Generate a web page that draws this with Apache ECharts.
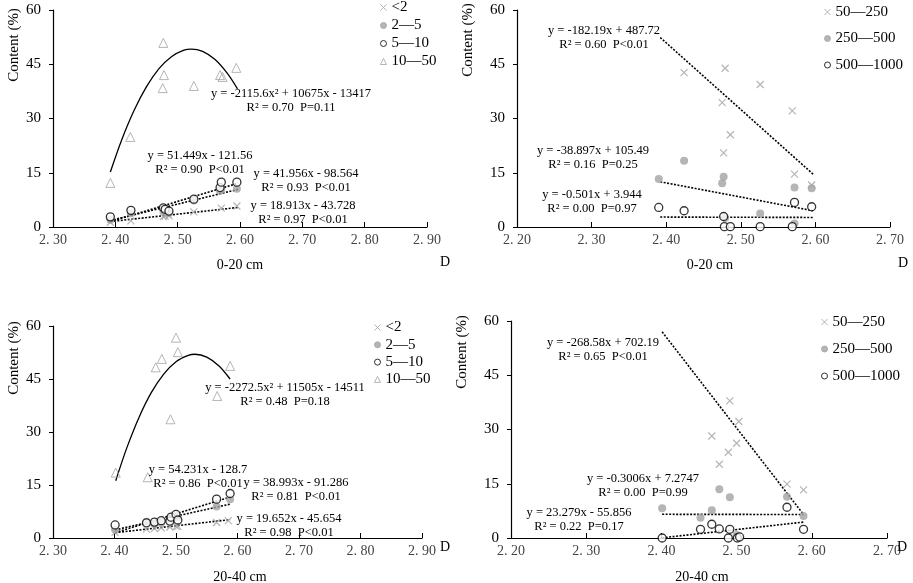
<!DOCTYPE html>
<html>
<head>
<meta charset="utf-8">
<script src="https://cdn.jsdelivr.net/npm/echarts@6/dist/echarts.min.js"></script>
<style>html,body{margin:0;padding:0;background:#fff;}#c{width:913px;height:583px;}</style>
</head>
<body>
<div id="c"></div>
<script>
// ---------- DATA ----------
// Panel A: 0-20 cm, fine classes
const a_lt2   = [[2.392,1.3],[2.425,1.7],[2.477,2.9],[2.480,3.0],[2.486,3.1],[2.526,4.2],[2.570,5.2],[2.595,5.8]];
const a_2_5   = [[2.392,2.0],[2.425,3.8],[2.477,4.6],[2.480,4.2],[2.486,3.8],[2.526,7.3],[2.568,10.0],[2.570,10.4],[2.595,10.6]];
const a_5_10  = [[2.392,2.8],[2.425,4.6],[2.477,5.3],[2.480,4.9],[2.486,4.4],[2.526,7.7],[2.568,10.9],[2.570,12.4],[2.595,12.4]];
const a_10_50 = [[2.392,12.2],[2.424,24.9],[2.477,50.9],[2.478,42.0],[2.476,38.4],[2.526,39.0],[2.568,42.0],[2.572,41.5],[2.594,44.0]];
const a_fit_lt2  = [[2.392,1.5],[2.597,5.4]];
const a_fit_2_5  = [[2.392,1.8],[2.597,10.4]];
const a_fit_5_10 = [[2.392,1.5],[2.597,12.1]];
const a_fit_10_50 = [[2.392,15.2],[2.41,24.0],[2.43,32.2],[2.45,38.8],[2.47,43.8],[2.49,47.1],[2.51,48.9],[2.522,49.2],[2.54,48.55],[2.56,46.3],[2.58,42.4],[2.596,38.2]];

// Panel B: 0-20 cm, coarse classes
const b_50_250   = [[2.424,42.7],[2.479,43.9],[2.526,39.4],[2.475,34.4],[2.569,32.1],[2.486,25.5],[2.477,20.5],[2.572,14.6],[2.595,11.6]];
const b_250_500  = [[2.390,13.3],[2.424,18.3],[2.477,13.9],[2.475,12.1],[2.479,2.5],[2.526,3.7],[2.572,1.0],[2.572,10.9],[2.595,10.7]];
const b_500_1000 = [[2.390,5.4],[2.424,4.5],[2.477,2.9],[2.478,0.1],[2.486,0.1],[2.526,0.1],[2.569,0.1],[2.572,6.8],[2.595,5.6]];
const b_fit_50_250   = [[2.392,52.4],[2.597,14.6]];
const b_fit_250_500  = [[2.392,12.5],[2.597,4.5]];
const b_fit_500_1000 = [[2.392,2.75],[2.597,2.64]];

// Panel C: 20-40 cm, fine classes
const c_lt2   = [[2.401,1.6],[2.452,2.5],[2.465,2.7],[2.476,2.9],[2.490,3.1],[2.500,3.3],[2.503,3.3],[2.566,4.4],[2.585,4.9]];
const c_2_5   = [[2.401,2.3],[2.452,4.6],[2.465,4.0],[2.476,4.5],[2.490,5.2],[2.500,6.2],[2.503,5.8],[2.566,8.9],[2.588,11.0]];
const c_5_10  = [[2.401,3.7],[2.452,4.3],[2.465,4.5],[2.476,4.9],[2.490,4.8],[2.492,5.9],[2.500,6.7],[2.503,5.1],[2.566,11.0],[2.588,12.6]];
const c_10_50 = [[2.402,18.5],[2.454,17.2],[2.467,48.3],[2.477,50.7],[2.500,56.7],[2.503,52.6],[2.491,33.6],[2.567,40.2],[2.588,48.7]];
const c_fit_lt2  = [[2.401,1.5],[2.588,5.2]];
const c_fit_2_5  = [[2.401,2.3],[2.588,9.6]];
const c_fit_5_10 = [[2.401,1.5],[2.588,11.6]];
const c_fit_10_50 = [[2.402,16.2],[2.42,25.5],[2.44,34.2],[2.46,41.2],[2.48,46.4],[2.50,49.9],[2.52,51.7],[2.531,52.0],[2.55,51.2],[2.57,48.7],[2.588,45.0]];

// Panel D: 20-40 cm, coarse classes
const d_50_250   = [[2.491,37.9],[2.503,32.2],[2.467,28.2],[2.500,26.2],[2.489,23.7],[2.477,20.4],[2.567,14.9],[2.589,13.3]];
const d_250_500  = [[2.401,8.2],[2.452,5.6],[2.467,7.7],[2.477,13.5],[2.491,11.3],[2.500,0.8],[2.567,11.4],[2.589,6.1]];
const d_500_1000 = [[2.401,0.0],[2.452,2.4],[2.467,3.8],[2.477,2.5],[2.491,2.4],[2.489,0.0],[2.501,0.0],[2.504,0.3],[2.567,8.5],[2.589,2.4]];
const d_fit_50_250   = [[2.401,57.0],[2.589,6.5]];
const d_fit_250_500  = [[2.401,6.55],[2.589,6.5]];
const d_fit_500_1000 = [[2.401,0.05],[2.589,4.4]];

const fineNames = ['<2','2—5','5—10','10—50'];
const coarseNames = ['50—250','250—500','500—1000'];
const yTicks = [0,15,30,45,60];

// ---------- STYLE ----------
const FONT = 'Liberation Serif';
const GRAY = '#a3a3a3';
const crossPath = 'path://M0,0L10,10M10,0L0,10';
const styles = {
  cross:  {symbol: crossPath, symbolSize: 7, itemStyle: {color: 'rgba(0,0,0,0)', borderColor: GRAY, borderWidth: 1.2}},
  dot:    {symbol: 'circle', symbolSize: 8, itemStyle: {color: GRAY, borderColor: GRAY, borderWidth: 0}},
  ring:   {symbol: 'circle', symbolSize: 8, itemStyle: {color: '#fff', borderColor: '#000', borderWidth: 1.3}},
  tri:    {symbol: 'triangle', symbolSize: 9, itemStyle: {color: 'rgba(255,255,255,0)', borderColor: GRAY, borderWidth: 1}}
};

const grids = [
  {left: 53, top: 10, width: 374, height: 217},
  {left: 517, top: 10, width: 373, height: 217},
  {left: 53, top: 326, width: 369, height: 212},
  {left: 511, top: 321, width: 376, height: 217}
];
const xRanges = [[2.3,2.9],[2.2,2.7],[2.3,2.9],[2.2,2.7]];

const xAxes = grids.map((g,i)=>({
  type: 'value', gridIndex: i, min: xRanges[i][0], max: xRanges[i][1], interval: 0.1,
  axisLine: {onZero: false, lineStyle: {color: '#000', width: 1.2}},
  axisTick: {show: true, inside: true, length: 5, lineStyle: {color: '#000'}},
  splitLine: {show: false},
  axisLabel: {margin: 6, color: '#444', fontFamily: FONT, fontSize: 14,
    formatter: v => { const s = v.toFixed(2); return s.replace('.', '. '); }}
}));
const yAxes = grids.map((g,i)=>({
  type: 'value', gridIndex: i, min: 0, max: 60, interval: 15,
  axisLine: {show: true, lineStyle: {color: '#000', width: 1.2}},
  axisTick: {show: true, inside: false, length: 4, lineStyle: {color: '#000'}},
  splitLine: {show: false},
  axisLabel: {margin: 12, color: '#000', fontFamily: FONT, fontSize: 15}
}));

function scatter(name, data, st, i) {
  return Object.assign({type: 'scatter', name, data, xAxisIndex: i, yAxisIndex: i, z: 3}, JSON.parse(JSON.stringify(st)));
}
function fit(data, i, dotted) {
  return {type: 'line', data, xAxisIndex: i, yAxisIndex: i, symbol: 'none', silent: true, z: 2,
    smooth: dotted ? false : 0.3,
    lineStyle: {color: '#000', width: dotted ? 1.6 : 1.3, type: dotted ? [2,1.5] : 'solid'}};
}

const series = [
  scatter('<2', a_lt2, styles.cross, 0), scatter('2—5', a_2_5, styles.dot, 0),
  scatter('5—10', a_5_10, styles.ring, 0), scatter('10—50', a_10_50, styles.tri, 0),
  fit(a_fit_lt2, 0, true), fit(a_fit_2_5, 0, true), fit(a_fit_5_10, 0, true), fit(a_fit_10_50, 0, false),

  scatter('50—250', b_50_250, styles.cross, 1), scatter('250—500', b_250_500, styles.dot, 1),
  scatter('500—1000', b_500_1000, styles.ring, 1),
  fit(b_fit_50_250, 1, true), fit(b_fit_250_500, 1, true), fit(b_fit_500_1000, 1, true),

  scatter('<2', c_lt2, styles.cross, 2), scatter('2—5', c_2_5, styles.dot, 2),
  scatter('5—10', c_5_10, styles.ring, 2), scatter('10—50', c_10_50, styles.tri, 2),
  fit(c_fit_lt2, 2, true), fit(c_fit_2_5, 2, true), fit(c_fit_5_10, 2, true), fit(c_fit_10_50, 2, false),

  scatter('50—250', d_50_250, styles.cross, 3), scatter('250—500', d_250_500, styles.dot, 3),
  scatter('500—1000', d_500_1000, styles.ring, 3),
  fit(d_fit_50_250, 3, true), fit(d_fit_250_500, 3, true), fit(d_fit_500_1000, 3, true)
];

function legend(names, left, top, gap) {
  return {data: names, orient: 'vertical', left, top, padding: 0, itemWidth: 6, itemHeight: 6, itemGap: gap,
    selectedMode: false,
    itemStyle: {borderWidth: 1},
    textStyle: {fontFamily: FONT, fontSize: 15, color: '#000', lineHeight: 15}};
}

const eqs = [
  // [text, centerX, centerY]
  ['y = -2115.6x² + 10675x - 13417\nR² = 0.70  P=0.11', 291, 101],
  ['y = 51.449x - 121.56\nR² = 0.90  P<0.01', 200, 163],
  ['y = 41.956x - 98.564\nR² = 0.93  P<0.01', 306, 181],
  ['y = 18.913x - 43.728\nR² = 0.97  P<0.01', 303, 213],
  ['y = -182.19x + 487.72\nR² = 0.60  P<0.01', 604, 38],
  ['y = -38.897x + 105.49\nR² = 0.16  P=0.25', 593, 158],
  ['y = -0.501x + 3.944\nR² = 0.00  P=0.97', 592, 202],
  ['y = -2272.5x² + 11505x - 14511\nR² = 0.48  P=0.18', 285, 395],
  ['y = 54.231x - 128.7\nR² = 0.86  P<0.01', 198, 477],
  ['y = 38.993x - 91.286\nR² = 0.81  P<0.01', 296, 490],
  ['y = 19.652x - 45.654\nR² = 0.98  P<0.01', 289, 526],
  ['y = -268.58x + 702.19\nR² = 0.65  P<0.01', 603, 350],
  ['y = -0.3006x + 7.2747\nR² = 0.00  P=0.99', 643, 486],
  ['y = 23.279x - 55.856\nR² = 0.22  P=0.17', 579, 520]
];
const titles = [
  ['0-20 cm', 240, 265], ['0-20 cm', 710, 265], ['20-40 cm', 240, 577], ['20-40 cm', 702, 577],
  ['D', 445, 262], ['D', 903, 263], ['D', 445, 547], ['D', 902, 547]
];
const yTitles = [[14, 45], [468, 40], [14, 358], [462, 352]];

const graphic = [];
eqs.forEach(e => graphic.push({type: 'text', x: e[1], y: e[2], z: 10,
  style: {text: e[0], fontFamily: FONT, fontSize: 12.5, lineHeight: 14, fill: '#000', align: 'center', verticalAlign: 'middle'}}));
titles.forEach(t => graphic.push({type: 'text', x: t[1], y: t[2], z: 10,
  style: {text: t[0], fontFamily: FONT, fontSize: 14, fill: '#000', align: 'center', verticalAlign: 'middle'}}));
yTitles.forEach(t => graphic.push({type: 'text', x: t[0], y: t[1], rotation: Math.PI/2, z: 10,
  style: {text: 'Content (%)', fontFamily: FONT, fontSize: 15, fill: '#000', align: 'center', verticalAlign: 'middle'}}));

const chart = echarts.init(document.getElementById('c'), null, {renderer: 'canvas'});
chart.setOption({
  backgroundColor: '#fff',
  animation: false,
  grid: grids,
  xAxis: xAxes,
  yAxis: yAxes,
  legend: [
    legend(fineNames, 380, 0, 3),
    legend(coarseNames, 824, 4.5, 11.5),
    legend(fineNames, 374, 320, 2.3),
    legend(coarseNames, 821, 314.5, 12)
  ],
  series,
  graphic
});
</script>
</body>
</html>
